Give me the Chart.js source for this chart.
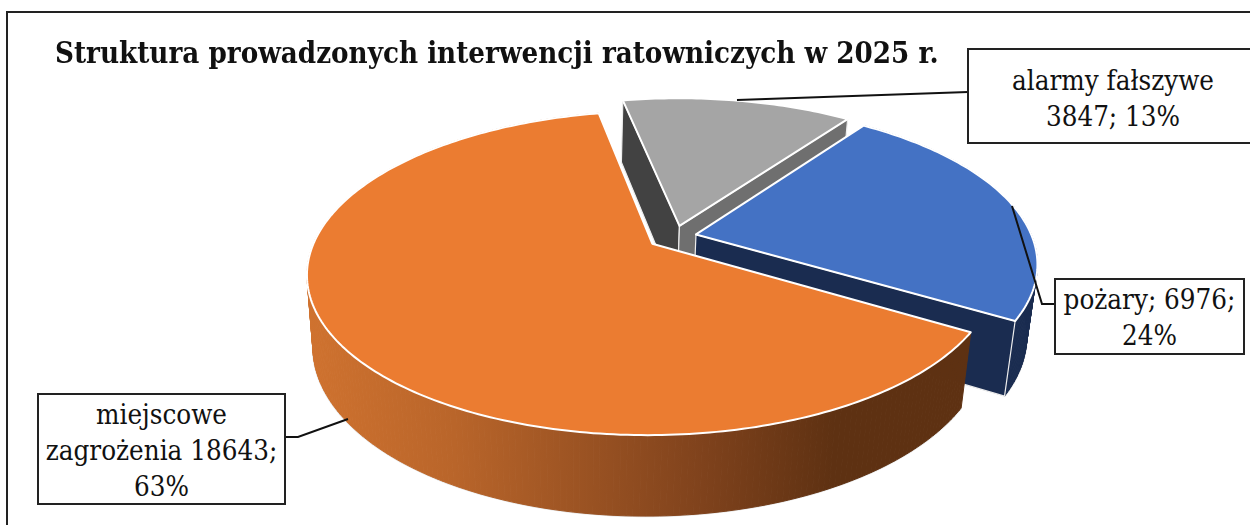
<!DOCTYPE html>
<html lang="pl">
<head>
<meta charset="utf-8">
<title>Struktura prowadzonych interwencji ratowniczych w 2025 r.</title>
<script src="https://cdn.jsdelivr.net/npm/chart.js@4/dist/chart.umd.min.js"></script>
<style>
    html, body { margin: 0; padding: 0; background: #fff; overflow: hidden; }
    #wrap { position: relative; width: 1250px; height: 525px; overflow: hidden; font-family: "DejaVu Serif Condensed", "DejaVu Serif", serif; color: #111; }
    #pie { position: absolute; left: 0; top: 0; }
    #frame { position: absolute; left: 6px; top: 11px; width: 1300px; height: 600px; border: 2px solid #222; }
    #title { position: absolute; left: 55px; top: 36px; font-size: 29.2px; font-weight: bold; white-space: nowrap; }
    .box { position: absolute; box-sizing: border-box; background: #fff; border: 2px solid #222; text-align: center; font-size: 27.5px; line-height: 36px; white-space: nowrap; }
</style>
</head>
<body>
<div id="wrap">
    <canvas id="pie" width="1250" height="525"></canvas>
    <div id="frame"></div>
    <div id="title">Struktura prowadzonych interwencji ratowniczych w 2025 r.</div>
    <div id="boxes"></div>
</div>
<script>
const categories = ['pożary', 'miejscowe zagrożenia', 'alarmy fałszywe'];
const values = [6976, 18643, 3847];
const topColors = ['#4472C4', '#EB7C31', '#A5A5A5'];
const sliceOffsets = [22, 27, 24];

// pie camera, fitted by eye to the picture
const DISC_RADIUS = 336;
const DISC_DEPTH = 81;
const CAM_DIST = 1660;
const TILT = 27.3 * Math.PI / 180;
const WALL_SKEW = 0.03;

// colours of the side faces: [start edge, outer wall, end edge], null = hidden
const sideColors = [
    [null, '#1A2C50', '#1A2C50'],
    [null, 'gradient', null],
    ['#424242', null, '#6F6F6F']
];

function project(cx, cy, X, Y, Z) {
    const yv = Y * Math.sin(TILT) + Z * Math.cos(TILT);
    const zv = Y * Math.cos(TILT) - Z * Math.sin(TILT);
    const s = CAM_DIST / (CAM_DIST + zv);
    return [cx + X * s + Z * WALL_SKEW, cy - yv * s];
}

function tracePoly(ctx, pts, close) {
    ctx.beginPath();
    pts.forEach((p, i) => i ? ctx.lineTo(p[0], p[1]) : ctx.moveTo(p[0], p[1]));
    if (close) ctx.closePath();
}

function fillPoly(ctx, pts, fill) {
    tracePoly(ctx, pts, true);
    ctx.fillStyle = fill;
    ctx.fill();
    ctx.stroke();
}

const leaders = [
    [[737, 100], [968, 92]],
    [[1012, 206], [1042, 304], [1055, 304]],
    [[348, 419], [298, 437], [286, 437]]
];

// Draw the arcs Chart.js laid out, as an exploded 3D pie
const pie3d = {
    id: 'pie3d',
    beforeDatasetsDraw(chart) {
        const ctx = chart.ctx;
        const arcs = chart.getDatasetMeta(0).data;
        const order = arcs.map((a, i) => i).sort((a, b) =>
            Math.sin((arcs[a].startAngle + arcs[a].endAngle) / 2) - Math.sin((arcs[b].startAngle + arcs[b].endAngle) / 2));

        const wallGrad = ctx.createLinearGradient(310, 0, 965, 0);
        wallGrad.addColorStop(0, '#CF722F');
        wallGrad.addColorStop(0.22, '#B9652A');
        wallGrad.addColorStop(0.6, '#7F421C');
        wallGrad.addColorStop(0.8, '#5E3112');
        wallGrad.addColorStop(1, '#5E3112');

        ctx.save();
        ctx.lineJoin = 'round';
        order.forEach(i => {
            const a = arcs[i];
            const mid = (a.startAngle + a.endAngle) / 2;
            const ox = Math.cos(mid) * sliceOffsets[i];
            const oy = -Math.sin(mid) * sliceOffsets[i];
            const point = (r, ang, z) => project(a.x, a.y, ox + r * Math.cos(ang), oy - r * Math.sin(ang), z);

            const rim = [];
            const steps = Math.ceil((a.endAngle - a.startAngle) * 60);
            for (let k = 0; k <= steps; k++) rim.push(a.startAngle + (a.endAngle - a.startAngle) * k / steps);
            const rimTop = rim.map(ang => point(DISC_RADIUS, ang, 0));
            const rimLow = rim.map(ang => point(DISC_RADIUS, ang, -DISC_DEPTH));
            const apex = point(0, 0, 0);
            const apexLow = point(0, 0, -DISC_DEPTH);
            const [startFace, wall, endFace] = sideColors[i];
            const last = rim.length - 1;

            if (wall) {
                // lower rim outline first, then the wall swept strip by strip
                const wallFill = wall === 'gradient' ? wallGrad : wall;
                ctx.strokeStyle = '#E4E4E4';
                ctx.lineWidth = 2.2;
                tracePoly(ctx, rimLow, false);
                ctx.stroke();
                ctx.fillStyle = wallFill;
                ctx.strokeStyle = wallFill;
                ctx.lineWidth = 1;
                for (let k = 0; k < last; k++) {
                    tracePoly(ctx, [rimTop[k], rimTop[k + 1], rimLow[k + 1], rimLow[k]], true);
                    ctx.fill();
                    ctx.stroke();
                }
            }
            ctx.strokeStyle = '#EDEDED';
            ctx.lineWidth = 1.2;
            if (startFace) fillPoly(ctx, [apex, rimTop[0], rimLow[0], apexLow], startFace);
            if (endFace) fillPoly(ctx, [apex, rimTop[last], rimLow[last], apexLow], endFace);

            ctx.strokeStyle = '#FFFFFF';
            ctx.lineWidth = 2;
            fillPoly(ctx, [apex].concat(rimTop), a.options.backgroundColor);
        });
        ctx.restore();
        return false;
    },
    afterDraw(chart) {
        const ctx = chart.ctx;
        ctx.save();
        ctx.strokeStyle = '#111';
        ctx.lineWidth = 2;
        leaders.forEach(line => {
            tracePoly(ctx, line, false);
            ctx.stroke();
        });
        ctx.restore();
    }
};

const chart = new Chart(document.getElementById('pie'), {
    type: 'pie',
    data: {
        labels: categories,
        datasets: [{ data: values, backgroundColor: topColors, borderWidth: 0 }]
    },
    options: {
        responsive: false,
        animation: false,
        rotation: 35.6,
        layout: { padding: { left: 99, bottom: 52 } },
        plugins: { legend: { display: false }, tooltip: { enabled: false } }
    },
    plugins: [pie3d]
});

// Data label boxes
const total = values.reduce((a, b) => a + b, 0);
const pct = v => Math.round(v / total * 100) + '%';
const boxes = [
    { left: 967, top: 48, width: 292, height: 96, lines: [categories[2], values[2] + '; ' + pct(values[2])], pad: 12 },
    { left: 1054, top: 278, width: 191, height: 77, lines: [categories[0] + '; ' + values[0] + ';', pct(values[0])], pad: 1 },
    { left: 37, top: 393, width: 249, height: 112, lines: ['miejscowe', 'zagrożenia ' + values[1] + ';', pct(values[1])], pad: 1 }
];
boxes.forEach(b => {
    const el = document.createElement('div');
    el.className = 'box';
    el.style.cssText = `left:${b.left}px;top:${b.top}px;width:${b.width}px;height:${b.height}px;padding-top:${b.pad}px`;
    el.innerHTML = b.lines.join('<br>');
    document.getElementById('boxes').appendChild(el);
});
</script>
</body>
</html>
